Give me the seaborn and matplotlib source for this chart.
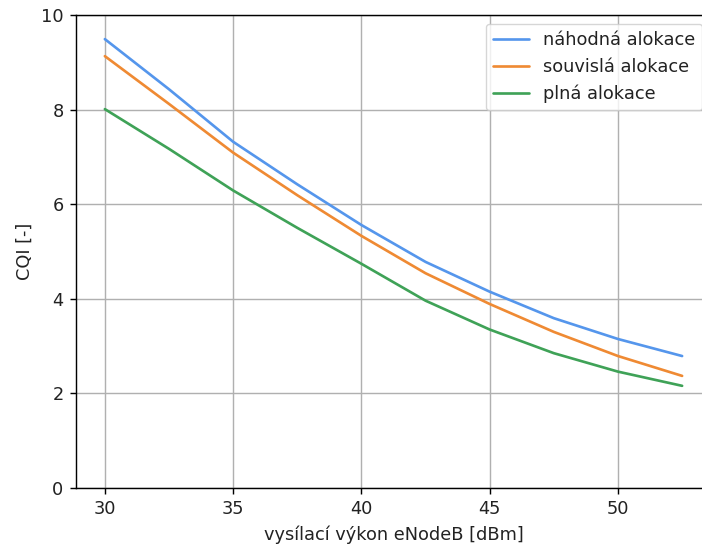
import matplotlib
matplotlib.use("Agg")
import matplotlib.pyplot as plt
import seaborn as sns
import pandas as pd

x_dbm = [30, 32.5, 35, 37.5, 40, 42.5, 45, 47.5, 50, 52.5]
nahodna = [9.49, 8.43, 7.32, 6.42, 5.56, 4.78, 4.15, 3.59, 3.15, 2.79]
souvisla = [9.13, 8.12, 7.09, 6.19, 5.33, 4.54, 3.89, 3.30, 2.79, 2.37]
plna = [8.01, 7.17, 6.29, 5.50, 4.74, 3.96, 3.35, 2.85, 2.46, 2.16]
series_names = ["náhodná alokace", "souvislá alokace", "plná alokace"]
colors = ["#5596ec", "#ef8a33", "#3fa257"]

rows = []
for name, vals in zip(series_names, [nahodna, souvisla, plna]):
    for xv, yv in zip(x_dbm, vals):
        rows.append({"x": xv, "y": yv, "s": name})
df = pd.DataFrame(rows)

sns.set_style("white")
plt.rcParams["font.family"] = ["DejaVu Sans"]
S = 1.28
fs = 10 * S

fig = plt.figure(figsize=(7.02, 5.44), dpi=100)
ax = fig.add_axes([76/702, 56/544, (711-76)/702, (488-15)/544])
sns.lineplot(data=df, x="x", y="y", hue="s", palette=colors, ax=ax, linewidth=1.5 * S)
ax.set_xlim(28.875, 53.625)
ax.set_ylim(0, 10)
ax.set_xticks([30, 35, 40, 45, 50])
ax.set_yticks([0, 2, 4, 6, 8, 10])
ax.grid(True, color="#b0b0b0", linewidth=0.8 * S)
ax.tick_params(axis="both", which="both", direction="out", length=3.5 * S, width=0.8 * S,
               colors="black", labelcolor="#222222", labelsize=fs, pad=3.5 * S, left=True, bottom=True)
for sp in ax.spines.values():
    sp.set_color("black")
    sp.set_linewidth(0.8 * S)
ax.spines["right"].set_visible(False)
ax.set_xlabel("vysílací výkon eNodeB [dBm]", fontsize=fs, color="#222222", labelpad=4 * S)
ax.set_ylabel("CQI [-]", fontsize=fs, color="#222222", labelpad=4 * S)
handles, labels = ax.get_legend_handles_labels()
leg = ax.legend(handles, labels, loc="upper right", fontsize=fs, frameon=True)
for t in leg.get_texts():
    t.set_color("#222222")
fig.savefig("out.png", dpi=100)
